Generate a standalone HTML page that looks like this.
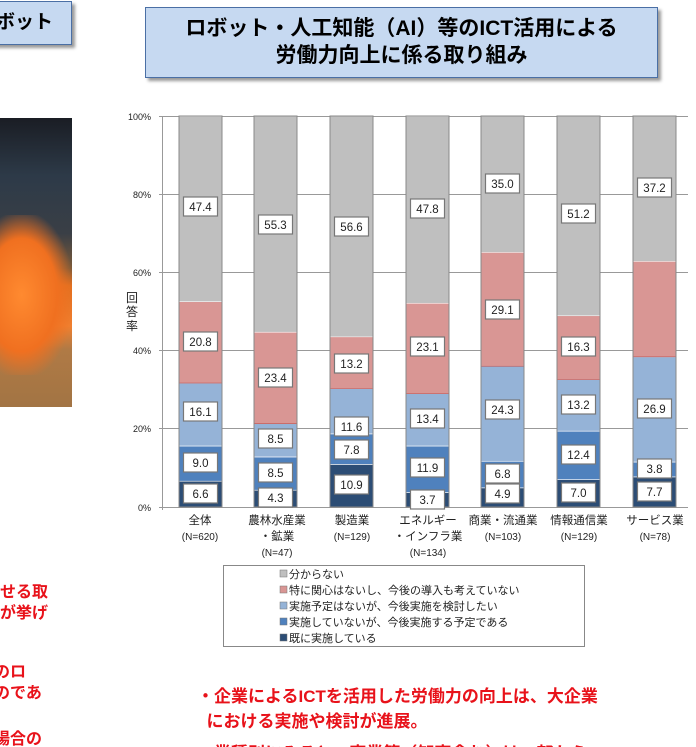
<!DOCTYPE html>
<html><head><meta charset="utf-8"><style>
html,body{margin:0;padding:0;background:#fff;width:696px;height:747px;overflow:hidden;position:relative;font-family:"Liberation Sans","Noto Sans CJK JP",sans-serif}
.t{position:absolute}
</style></head><body>
<div class="t" style="left:-10px;top:1px;width:82px;height:44px;background:#c6d9f1;border:1px solid #4a6fa5;box-shadow:3px 3px 3px #999;box-sizing:border-box;font-weight:bold;font-size:19px;line-height:42px;text-align:right;padding-right:18px">ボット</div>
<div class="t" style="left:145px;top:7px;width:513px;height:71px;background:#c6d9f1;border:1px solid #4a6fa5;box-shadow:3px 3px 3px #999;box-sizing:border-box;font-weight:bold;font-size:21px;line-height:27px;text-align:center;padding-top:7px;white-space:nowrap">ロボット・人工知能（AI）等のICT活用による<br>労働力向上に係る取り組み</div>
<div class="t" style="left:0;top:118px;width:72px;height:289px;background:linear-gradient(180deg,#1a1d24 0%,#2d3a48 20%,#3a3f46 40%,#7a5a3a 52%,#e07020 58%,#f08030 72%,#b07a45 80%,#a27444 100%)"></div>
<div class="t" style="left:0;top:215px;width:72px;height:160px;background:radial-gradient(ellipse at 30% 50%,#ff8a30 0%,#f07020 50%,rgba(160,110,60,0) 75%)"></div>
<svg class="t" style="left:0;top:0" width="696" height="747" font-family="Liberation Sans, Noto Sans CJK JP, sans-serif">
<g stroke="#999" stroke-width="1">
<line x1="159" y1="116.5" x2="688" y2="116.5"/><line x1="159" y1="194.5" x2="688" y2="194.5"/><line x1="159" y1="272.5" x2="688" y2="272.5"/><line x1="159" y1="350.5" x2="688" y2="350.5"/><line x1="159" y1="428.5" x2="688" y2="428.5"/><line x1="159" y1="507.5" x2="688" y2="507.5"/><line x1="162.5" y1="116" x2="162.5" y2="510"/>
</g>
<g font-size="9" text-anchor="end" fill="#222">
<text x="151" y="120">100%</text><text x="151" y="198">80%</text><text x="151" y="276">60%</text><text x="151" y="354">40%</text><text x="151" y="432">20%</text><text x="151" y="511">0%</text>
</g>
<g font-size="12" fill="#222" text-anchor="middle"><text x="132" y="302">回</text><text x="132" y="316">答</text><text x="132" y="330">率</text></g>
<g id="bars"></g>
<g id="labs"></g>
<g font-size="11.5" fill="#222" text-anchor="middle">
<text x="200" y="524">全体</text><text x="200" y="540" font-size="10">(N=620)</text>
<text x="277" y="524">農林水産業</text><text x="277" y="540">・鉱業</text><text x="277" y="556" font-size="10">(N=47)</text>
<text x="352" y="524">製造業</text><text x="352" y="540" font-size="10">(N=129)</text>
<text x="428" y="524">エネルギー</text><text x="428" y="540">・インフラ業</text><text x="428" y="556" font-size="10">(N=134)</text>
<text x="503" y="524">商業・流通業</text><text x="503" y="540" font-size="10">(N=103)</text>
<text x="579" y="524">情報通信業</text><text x="579" y="540" font-size="10">(N=129)</text>
<text x="655" y="524">サービス業</text><text x="655" y="540" font-size="10">(N=78)</text>
</g>
<rect x="223.5" y="565.5" width="361" height="81" fill="#fff" stroke="#888"/>
<g font-size="11" fill="#222">
<rect x="280" y="570" width="7" height="7" fill="#bfbfbf" stroke="#777" stroke-width="0.5"/><text x="289" y="578">分からない</text>
<rect x="280" y="586" width="7" height="7" fill="#d99694" stroke="#777" stroke-width="0.5"/><text x="289" y="594">特に関心はないし、今後の導入も考えていない</text>
<rect x="280" y="602" width="7" height="7" fill="#95b3d7" stroke="#777" stroke-width="0.5"/><text x="289" y="610">実施予定はないが、今後実施を検討したい</text>
<rect x="280" y="618" width="7" height="7" fill="#4f81bd" stroke="#777" stroke-width="0.5"/><text x="289" y="626">実施していないが、今後実施する予定である</text>
<rect x="280" y="634" width="7" height="7" fill="#2c4d75" stroke="#777" stroke-width="0.5"/><text x="289" y="642">既に実施している</text>
</g>
</svg>
<div class="t" style="left:0;top:582px;color:#e8121a;font-weight:bold;font-size:16px;line-height:21px">せる取<br>が挙げ</div>
<div class="t" style="left:0;top:662px;color:#e8121a;font-weight:bold;font-size:16px;line-height:21px;margin-left:-6px">のロ<br>のであ</div>
<div class="t" style="left:-6px;top:729px;color:#e8121a;font-weight:bold;font-size:16px;line-height:21px">場合の</div>
<div class="t" style="left:197px;top:684px;color:#e8121a;font-weight:bold;font-size:17px;line-height:25px;white-space:nowrap">・企業によるICTを活用した労働力の向上は、大企業<br>&nbsp;&nbsp;における実施や検討が進展。</div>
<div class="t" style="left:197px;top:741px;color:#e8121a;font-weight:bold;font-size:17px;line-height:25px;white-space:nowrap">・業種別にみると、商業等（卸売含む）は一部から</div>
<script>
const data=[[6.6,9.0,16.1,20.8,47.4],[4.3,8.5,8.5,23.4,55.3],[10.9,7.8,11.6,13.2,56.6],[3.7,11.9,13.4,23.1,47.8],[4.9,6.8,24.3,29.1,35.0],[7.0,12.4,13.2,16.3,51.2],[7.7,3.8,26.9,24.4,37.2]];
const ly=[[494,463,412,342,207],[498,473,439,378,225],[485,450,427,364,227],[500,468,419,347,209],[494,474,410,310,184],[493,455,405,347,214],[492,469,409,null,188]];
const col=["#2c4d75","#4f81bd","#95b3d7","#d99694","#bfbfbf"];
const xs=[179,254,330,406,481,557,633];
const ns="http://www.w3.org/2000/svg";
const B=document.getElementById("bars"),L=document.getElementById("labs");
function el(t,a,p){const e=document.createElementNS(ns,t);for(const k in a)e.setAttribute(k,a[k]);p.appendChild(e);return e;}
const s=391/100;
data.forEach((d,i)=>{let y=507;d.forEach((v,j)=>{const h=v*s;el("rect",{x:xs[i],y:y-h,width:43,height:h,fill:col[j],stroke:j==3?"#c0504d":"#fff","stroke-width":0.6},B);y-=h;});
el("rect",{x:xs[i],y:116,width:43,height:391,fill:"none",stroke:"#888","stroke-width":1},B);
d.forEach((v,j)=>{if(ly[i][j]==null)return;const cx=xs[i]+21.5,cy=ly[i][j];el("rect",{x:cx-17,y:cy-10,width:34,height:19,fill:"#fff",stroke:"#777","stroke-width":1.2},L);const t=el("text",{x:cx,y:cy+4,"text-anchor":"middle","font-size":"11.5",fill:"#222"},L);t.textContent=v.toFixed(1);});});
</script>
</body></html>
